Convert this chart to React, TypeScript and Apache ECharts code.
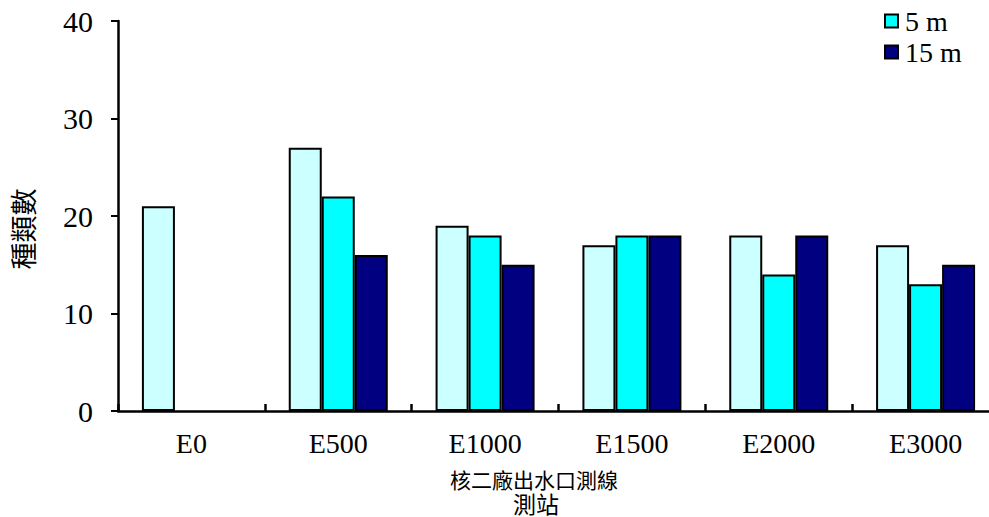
import React, { useEffect, useRef } from "react";
import * as echarts from "echarts";

const categories = ["E0", "E500", "E1000", "E1500", "E2000", "E3000"];
const surface = [21, 27, 19, 17, 18, 17];
const depth5 = [null, 22, 18, 18, 14, 13];
const depth15 = [null, 16, 15, 18, 18, 15];
const yTicks = [0, 10, 20, 30, 40];

const serif = "'Liberation Serif', 'Times New Roman', serif";
const cjk = "'Noto Sans CJK TC', 'Noto Sans CJK SC', sans-serif";

export default function App() {
  const ref = useRef<HTMLDivElement>(null);
  useEffect(() => {
    if (!ref.current) return;
    const chart = echarts.init(ref.current, null, { renderer: "svg" });
    const barStyle = (color: string) => ({
      color,
      borderColor: "#000",
      borderWidth: 2,
    });
    chart.setOption({
      animation: false,
      backgroundColor: "#fff",
      grid: { left: 118, top: 21, width: 881, height: 390 },
      legend: {
        data: ["5 m", "15 m"],
        orient: "vertical",
        left: 879,
        top: 2,
        itemWidth: 13,
        itemHeight: 13,
        itemGap: 3,
        icon: "rect",
        itemStyle: { borderColor: "#000", borderWidth: 2 },
        textStyle: { fontFamily: serif, fontSize: 28, color: "#000", padding: [0, 0, 0, 2] },
      },
      xAxis: {
        type: "category",
        data: categories,
        axisLine: { lineStyle: { color: "#000", width: 2.5 } },
        axisTick: {
          show: true,
          interval: 0,
          inside: true,
          length: 7,
          lineStyle: { color: "#000", width: 2.5 },
        },
        axisLabel: { fontFamily: serif, fontSize: 28, color: "#000", margin: 18 },
      },
      yAxis: {
        type: "value",
        min: yTicks[0],
        max: yTicks[yTicks.length - 1],
        interval: 10,
        splitLine: { show: false },
        axisLine: { show: true, lineStyle: { color: "#000", width: 2.5 } },
        axisTick: { show: true, length: 7, lineStyle: { color: "#000", width: 2 } },
        axisLabel: { fontFamily: serif, fontSize: 30, color: "#000", margin: 25 },
      },
      series: [
        {
          name: "0 m",
          type: "bar",
          data: surface,
          barWidth: 33,
          barGap: "0%",
          itemStyle: barStyle("#CCFFFF"),
        },
        {
          name: "5 m",
          type: "bar",
          data: depth5,
          barWidth: 33,
          barGap: "0%",
          itemStyle: barStyle("#00FFFF"),
        },
        {
          name: "15 m",
          type: "bar",
          data: depth15,
          barWidth: 33,
          barGap: "0%",
          itemStyle: barStyle("#000080"),
        },
      ],
      graphic: [
        {
          type: "text",
          x: 22,
          y: 229,
          rotation: Math.PI / 2,
          style: {
            text: "種類數",
            fontFamily: cjk,
            fontSize: 27,
            fill: "#000",
            align: "center",
            verticalAlign: "middle",
          },
        },
        {
          type: "text",
          x: 534,
          y: 479,
          style: {
            text: "核二廠出水口測線",
            fontFamily: cjk,
            fontSize: 21,
            lineHeight: 21,
            fill: "#000",
            align: "center",
            verticalAlign: "middle",
          },
        },
        {
          type: "text",
          x: 536,
          y: 503,
          style: {
            text: "測站",
            fontFamily: cjk,
            fontSize: 23,
            lineHeight: 23,
            fill: "#000",
            align: "center",
            verticalAlign: "middle",
          },
        },
      ],
    });
    return () => chart.dispose();
  }, []);
  return (
    <div
      style={{
        position: "absolute",
        left: 0,
        top: 0,
        width: 989,
        height: 517,
        overflow: "hidden",
        background: "#fff",
      }}
    >
      <div ref={ref} style={{ width: 1012, height: 517 }} />
    </div>
  );
}
